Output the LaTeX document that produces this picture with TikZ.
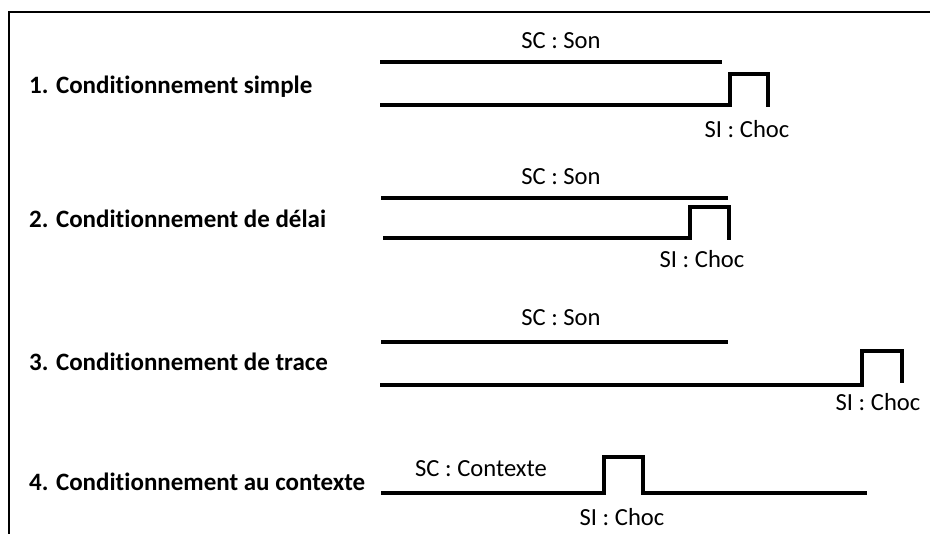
\documentclass[tikz,border=0pt]{standalone}
\usepackage{fontspec}
\setmainfont{Carlito}[Ligatures=CommonOff]
\begin{document}
\begin{tikzpicture}[x=1pt,y=-1pt,
  title/.style={anchor=base west,inner sep=0pt,font=\fontsize{25}{30}\selectfont\bfseries},
  lbl/.style={anchor=base,inner sep=0pt,font=\fontsize{24.6}{29}\selectfont},
  sig/.style={line width=3.5pt,line cap=butt,line join=miter},
  frame/.style={line width=1.5pt}]
\useasboundingbox (0,0) rectangle (930,534);
\draw[frame] (9,534) -- (9,12) -- (930,12);
% Row 1
\node[title] (t1) at (29,94) {1. Conditionnement simple};
\node[lbl] (sc1) at (561,49) {SC : Son};
\node[lbl] (si1) at (747,138) {SI : Choc};
\draw[sig] (380,62) -- (722,62);
\draw[sig] (380,105) -- (730,105) -- (730,74) -- (768,74) -- (768,107);
% Row 2
\node[title] (t2) at (29,228) {2. Conditionnement de délai};
\node[lbl] (sc2) at (561,185) {SC : Son};
\node[lbl] (si2) at (702,268) {SI : Choc};
\draw[sig] (381,198) -- (728,198);
\draw[sig] (383,238) -- (690,238) -- (690,207) -- (729,207) -- (729,240);
% Row 3
\node[title] (t3) at (29,371) {3. Conditionnement de trace};
\node[lbl] (sc3) at (561,326) {SC : Son};
\node[lbl] (si3) at (878,411) {SI : Choc};
\draw[sig] (381,342) -- (728,342);
\draw[sig] (380,385) -- (862,385) -- (862,351) -- (902,351) -- (902,383);
% Row 4
\node[title] (t4) at (29,491) {4. Conditionnement au contexte};
\node[lbl,anchor=base west] (sc4) at (415,477) {SC : Contexte};
\node[lbl] (si4) at (622,526) {SI : Choc};
\draw[sig] (381,493) -- (604,493) -- (604,457) -- (643,457) -- (643,493) -- (867,493);
\end{tikzpicture}
\end{document}
